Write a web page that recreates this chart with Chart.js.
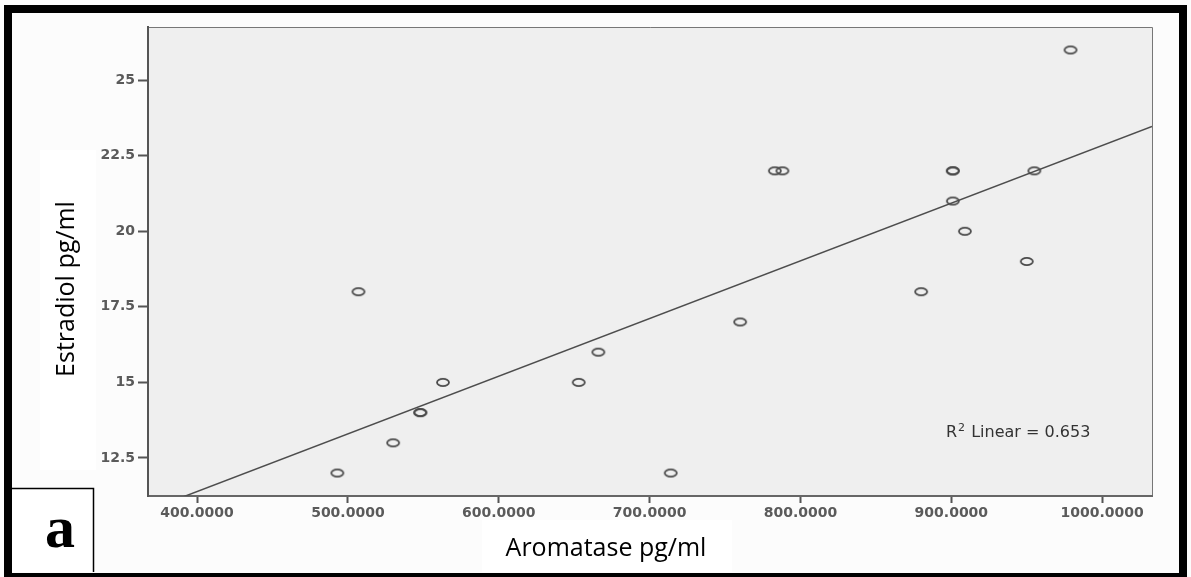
<!DOCTYPE html>
<html>
<head>
<meta charset="utf-8">
<title>Estradiol vs Aromatase</title>
<script src="https://cdn.jsdelivr.net/npm/chart.js@4.4.1/dist/chart.umd.min.js"></script>
<style>
  html, body { margin: 0; padding: 0; background: #fcfcfc; }
  #wrap { position: relative; width: 1191px; height: 577px; }
</style>
</head>
<body>
<div id="wrap"><canvas id="scatter" width="1191" height="577"></canvas></div>
<script>
// aromatase (x) and estradiol (y), pg/ml
var aromatase = [493, 507, 530, 548, 548, 563, 653, 666, 714, 760, 783, 788, 880, 901, 901, 901, 909, 950, 955, 979];
var estradiol = [12, 18, 13, 14, 14, 15, 15, 16, 12, 17, 22, 22, 18, 22, 22, 21, 20, 19, 22, 26];

var xTicks = [400, 500, 600, 700, 800, 900, 1000];
var yTicks = [12.5, 15, 17.5, 20, 22.5, 25];
var xRange = [367.5, 1033];
var yRange = [11.24, 26.76];

// least squares fit
var n = aromatase.length, mx = 0, my = 0;
for (var i = 0; i < n; i++) { mx += aromatase[i]; my += estradiol[i]; }
mx /= n; my /= n;
var sxy = 0, sxx = 0, syy = 0;
for (var i = 0; i < n; i++) {
	sxy += (aromatase[i] - mx) * (estradiol[i] - my);
	sxx += (aromatase[i] - mx) * (aromatase[i] - mx);
	syy += (estradiol[i] - my) * (estradiol[i] - my);
}
var slope = sxy / sxx;
var intercept = my - slope * mx;
var r2 = (sxy * sxy) / (sxx * syy);

var points = [];
for (var i = 0; i < n; i++) points.push({ x: aromatase[i], y: estradiol[i] });
var fitLine = [
	{ x: xRange[0], y: intercept + slope * xRange[0] },
	{ x: xRange[1], y: intercept + slope * xRange[1] }
];

// open oval marker
var marker = document.createElement('canvas');
marker.width = 16; marker.height = 11;
(function () {
	var c = marker.getContext('2d');
	c.strokeStyle = '#4a4a4a';
	c.lineWidth = 1.8;
	c.beginPath();
	c.ellipse(8, 5.5, 6, 3.6, 0, 0, Math.PI * 2);
	c.stroke();
})();

var decor = {
	id: 'decor',
	beforeDraw: function (chart) {
		var ctx = chart.ctx, a = chart.chartArea;
		ctx.save();
		// title boxes
		ctx.fillStyle = '#ffffff';
		ctx.fillRect(40, 150, 56, 320);
		ctx.fillRect(482, 520, 250, 52);
		// plot background
		ctx.fillStyle = '#efefef';
		ctx.fillRect(a.left, a.top, a.right - a.left, a.bottom - a.top);
		ctx.strokeStyle = '#777';
		ctx.lineWidth = 1;
		ctx.beginPath();
		ctx.moveTo(a.left, a.top + 0.5);
		ctx.lineTo(a.right + 0.5, a.top + 0.5);
		ctx.lineTo(a.right + 0.5, a.bottom);
		ctx.stroke();
		ctx.restore();
	},
	afterDraw: function (chart) {
		var ctx = chart.ctx, a = chart.chartArea;
		ctx.save();
		// axis titles
		ctx.fillStyle = '#000';
		ctx.font = '25px "Open Sans"';
		ctx.textAlign = 'center';
		ctx.textBaseline = 'middle';
		ctx.fillText('Aromatase pg/ml', 606, 549);
		ctx.translate(67, 289);
		ctx.rotate(-Math.PI / 2);
		ctx.fillText('Estradiol pg/ml', 0, 0);
		ctx.restore();

		// R2 label
		ctx.save();
		ctx.fillStyle = '#333';
		ctx.textBaseline = 'alphabetic';
		ctx.textAlign = 'left';
		var tx = a.right - 206, ty = a.bottom - 59;
		ctx.font = '16px "DejaVu Sans"';
		ctx.fillText('R', tx, ty);
		var w = ctx.measureText('R').width;
		ctx.font = '11px "DejaVu Sans"';
		ctx.fillText('2', tx + w + 1, ty - 6);
		var w2 = ctx.measureText('2').width;
		ctx.font = '16px "DejaVu Sans"';
		ctx.fillText(' Linear = ' + r2.toFixed(3), tx + w + w2 + 2, ty);
		ctx.restore();

		// panel letter box
		ctx.save();
		ctx.fillStyle = '#fff';
		ctx.fillRect(12, 488, 81, 84);
		ctx.strokeStyle = '#000';
		ctx.lineWidth = 1.5;
		ctx.beginPath();
		ctx.moveTo(12, 488.5);
		ctx.lineTo(93.5, 488.5);
		ctx.lineTo(93.5, 572);
		ctx.stroke();
		ctx.fillStyle = '#000';
		ctx.font = 'bold 60px "Liberation Serif"';
		ctx.textAlign = 'center';
		ctx.textBaseline = 'alphabetic';
		ctx.fillText('a', 60, 547);
		ctx.restore();

		// outer frame
		ctx.save();
		ctx.strokeStyle = '#000';
		ctx.lineWidth = 8;
		ctx.strokeRect(8, 9, 1175, 568);
		ctx.restore();
	}
};

var ctx = document.getElementById('scatter');

var chart = new Chart(ctx, {
	type: 'scatter',
	data: {
		datasets: [{
				label: 'Estradiol',
				data: points,
				pointStyle: marker,
				pointRadius: 6,
				pointHoverRadius: 6
			},
			{
				type: 'line',
				label: 'Linear fit',
				data: fitLine,
				borderColor: '#4d4d4d',
				borderWidth: 1.5,
				pointRadius: 0,
				fill: false
			}
		]
	},
	options: {
		responsive: false,
		animation: false,
		layout: {
			padding: { top: 27, right: 39, left: 0, bottom: 0 }
		},
		plugins: {
			legend: { display: false },
			tooltip: { enabled: false }
		},
		scales: {
			x: {
				type: 'linear',
				min: xRange[0],
				max: xRange[1],
				afterFit: function (scale) { scale.height = 81; },
				afterBuildTicks: function (scale) {
					scale.ticks = xTicks.map(function (v) { return { value: v }; });
				},
				grid: {
					drawOnChartArea: false,
					tickLength: 7,
					tickWidth: 2,
					tickColor: '#555'
				},
				border: { color: '#666', width: 2 },
				ticks: {
					padding: 2,
					color: '#5a5a5a',
					font: { family: 'DejaVu Sans', size: 14, weight: 'bold' },
					callback: function (v) { return Number(v).toFixed(4); }
				}
			},
			y: {
				min: yRange[0],
				max: yRange[1],
				afterFit: function (scale) { scale.width = 148; },
				afterBuildTicks: function (scale) {
					scale.ticks = yTicks.map(function (v) { return { value: v }; });
				},
				grid: {
					drawOnChartArea: false,
					tickLength: 10,
					tickWidth: 2,
					tickColor: '#555'
				},
				border: { color: '#555', width: 2 },
				ticks: {
					padding: 3,
					color: '#5a5a5a',
					font: { family: 'DejaVu Sans', size: 14, weight: 'bold' },
					callback: function (v) { return String(v); }
				}
			}
		}
	},
	plugins: [decor]
});
</script>
</body>
</html>
